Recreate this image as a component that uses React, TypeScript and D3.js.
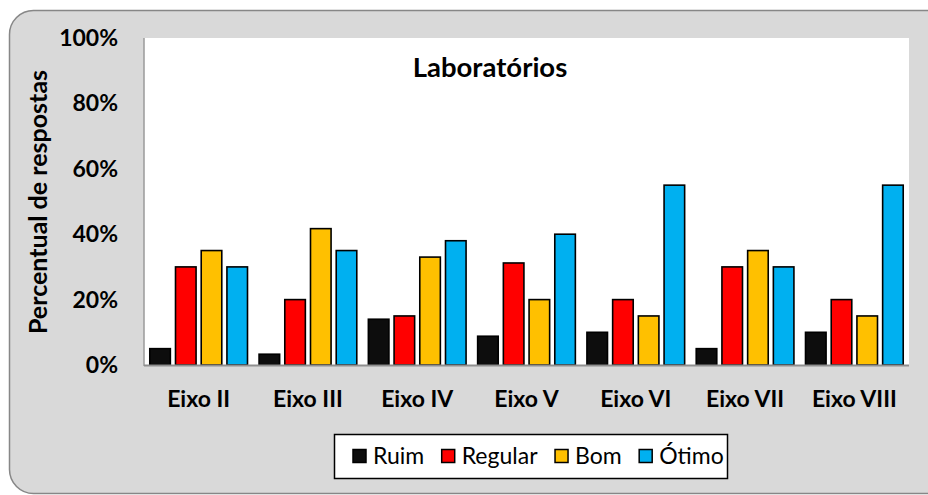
import React, { useEffect, useRef } from "react";
import * as d3 from "d3";

const categories = ["Eixo II", "Eixo III", "Eixo IV", "Eixo V", "Eixo VI", "Eixo VII", "Eixo VIII"];
const seriesNames = ["Ruim", "Regular", "Bom", "Ótimo"];
const seriesColors = ["#0d0d0d", "#ff0000", "#ffc000", "#00b0f0"];
const ruim = [5, 3.3, 14, 8.8, 10, 5, 10];
const regular = [30, 20, 15, 31.2, 20, 30, 20];
const bom = [35, 41.7, 33, 20, 15, 35, 15];
const otimo = [30, 35, 38, 40, 55, 30, 55];
const yTicks = [0, 20, 40, 60, 80, 100];
const title = "Laboratórios";
const yTitle = "Percentual de respostas";

const FONT = "Lato, 'Open Sans', sans-serif";

export default function App() {
  const ref = useRef<SVGSVGElement | null>(null);
  useEffect(() => {
    const svg = d3.select(ref.current);
    svg.selectAll("*").remove();
    const plot = { l: 144, t: 38, r: 909, b: 365 };

    svg.append("rect").attr("x", 9.5).attr("y", 10.5).attr("width", 940).attr("height", 483)
      .attr("rx", 24).attr("fill", "#d9d9d9").attr("stroke", "#878787").attr("stroke-width", 1.5);

    svg.append("rect").attr("x", plot.l).attr("y", plot.t).attr("width", plot.r - plot.l)
      .attr("height", plot.b - plot.t).attr("fill", "#ffffff");

    const x0 = d3.scaleBand().domain(categories).range([plot.l, plot.r]).paddingInner(0).paddingOuter(0);
    const x1 = d3.scaleBand().domain(seriesNames).range([0, x0.bandwidth()]).paddingOuter(0.125).paddingInner(0);
    const y = d3.scaleLinear().domain([0, 100]).range([plot.b, plot.t]);

    const data = [ruim, regular, bom, otimo];
    const barW = x1.bandwidth() * 0.8;
    categories.forEach((c, ci) => {
      seriesNames.forEach((s, si) => {
        const v = data[si][ci];
        const cx = (x0(c) as number) + (x1(s) as number) + x1.bandwidth() / 2;
        svg.append("rect")
          .attr("x", cx - barW / 2).attr("y", y(v)).attr("width", barW).attr("height", y(0) - y(v))
          .attr("fill", seriesColors[si]).attr("stroke", "#000").attr("stroke-width", 1.6);
      });
    });

    svg.append("line").attr("x1", plot.l).attr("x2", plot.l).attr("y1", plot.t).attr("y2", plot.b + 1)
      .attr("stroke", "#9a9a9a").attr("stroke-width", 1.5);
    svg.append("line").attr("x1", plot.l).attr("x2", plot.r).attr("y1", plot.b + 0.5).attr("y2", plot.b + 0.5)
      .attr("stroke", "#8f8f8f").attr("stroke-width", 2);

    yTicks.forEach((t) => {
      svg.append("text").attr("x", 118).attr("y", y(t)).attr("dy", "0.35em")
        .attr("text-anchor", "end").attr("font-family", FONT).attr("font-weight", 700)
        .attr("font-size", 23).attr("fill", "#000").text(`${t}%`);
    });

    categories.forEach((c) => {
      svg.append("text").attr("x", (x0(c) as number) + x0.bandwidth() / 2).attr("y", 407)
        .attr("text-anchor", "middle").attr("font-family", FONT).attr("font-weight", 700)
        .attr("font-size", 23).attr("fill", "#000").text(c);
    });

    svg.append("text").attr("x", 490).attr("y", 77).attr("text-anchor", "middle")
      .attr("font-family", FONT).attr("font-weight", 700).attr("font-size", 27.5).attr("fill", "#000").text(title);

    svg.append("text").attr("transform", "translate(47,202) rotate(-90)").attr("text-anchor", "middle")
      .attr("font-family", FONT).attr("font-weight", 700).attr("font-size", 25).attr("fill", "#000").text(yTitle);

    // legend
    const lg = svg.append("g");
    lg.append("rect").attr("x", 334.5).attr("y", 434.5).attr("width", 393).attr("height", 44)
      .attr("fill", "#fff").attr("stroke", "#000").attr("stroke-width", 1.5);
    let lx = 353;
    seriesNames.forEach((s, si) => {
      lg.append("rect").attr("x", lx).attr("y", 449.5).attr("width", 13).attr("height", 13)
        .attr("fill", seriesColors[si]).attr("stroke", "#000").attr("stroke-width", 1.5);
      const t = lg.append("text").attr("x", lx + 20).attr("y", 464).attr("font-family", FONT)
        .attr("font-size", 23).attr("fill", "#000").text(s);
      const w = (t.node() as SVGTextElement).getComputedTextLength();
      lx += 20 + w + 17.5;
    });
  }, []);
  return (
    <svg ref={ref} width={928} height={495} style={{ position: "absolute", left: 0, top: 0 }} />
  );
}
